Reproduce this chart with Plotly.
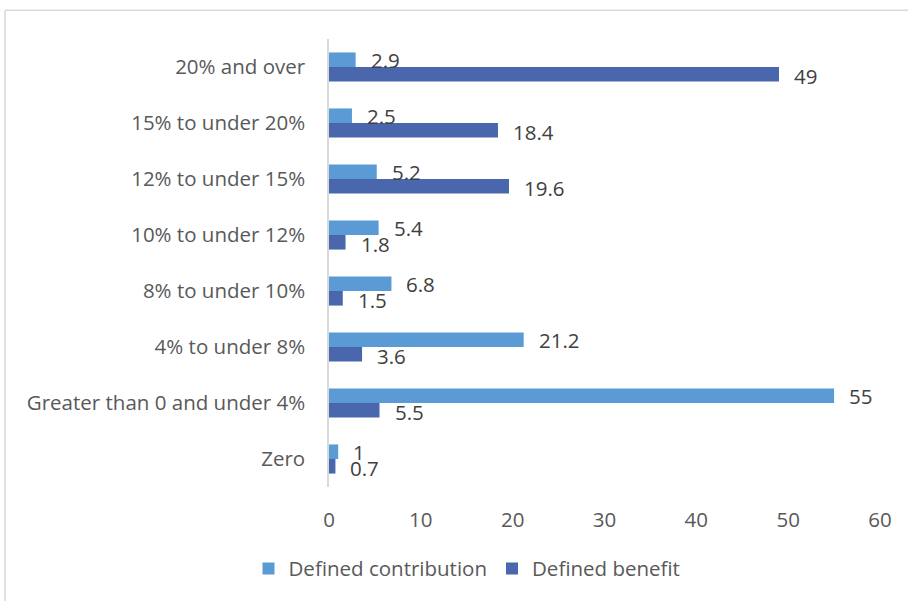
import plotly.graph_objects as go

categories = [
    "Zero",
    "Greater than 0 and under 4%",
    "4% to under 8%",
    "8% to under 10%",
    "10% to under 12%",
    "12% to under 15%",
    "15% to under 20%",
    "20% and over",
]
defined_contribution = [1, 55, 21.2, 6.8, 5.4, 5.2, 2.5, 2.9]
defined_benefit = [0.7, 5.5, 3.6, 1.5, 1.8, 19.6, 18.4, 49]
x_ticks = [0, 10, 20, 30, 40, 50, 60]

LIGHT = "#5B9BD5"
DARK = "#4A66AC"
FONT = "Open Sans"
FS = 20.5

fig = go.Figure()

# benefit first so it sits below contribution in each group
fig.add_trace(go.Bar(
    y=categories, x=defined_benefit, orientation="h",
    name="Defined benefit", marker=dict(color=DARK, line=dict(width=0)),
))
fig.add_trace(go.Bar(
    y=categories, x=defined_contribution, orientation="h",
    name="Defined contribution", marker=dict(color=LIGHT, line=dict(width=0)),
))

# data labels
for cat, v in zip(categories, defined_contribution):
    fig.add_annotation(x=v, y=cat, text=f"{v:g}", showarrow=False,
                       xanchor="left", xshift=13, yshift=7,
                       font=dict(family=FONT, size=FS, color="#404040"))
for cat, v in zip(categories, defined_benefit):
    fig.add_annotation(x=v, y=cat, text=f"{v:g}", showarrow=False,
                       xanchor="left", xshift=13, yshift=-9,
                       font=dict(family=FONT, size=FS, color="#404040"))

# outer chart border: only the left and top edges fall inside the frame
left_x = (5 - 329) / 551
top_y = (489 - 10) / 450
fig.add_shape(type="line", xref="paper", yref="paper",
              x0=left_x, x1=left_x, y0=-2, y1=top_y,
              line=dict(color="#D9D9D9", width=1.5), layer="below")
fig.add_shape(type="line", xref="paper", yref="paper",
              x0=left_x, x1=2, y0=top_y, y1=top_y,
              line=dict(color="#D9D9D9", width=1.5), layer="below")

fig.update_layout(
    width=908, height=601,
    margin=dict(l=329, r=28, t=39, b=112),
    paper_bgcolor="white", plot_bgcolor="white",
    barmode="group", bargap=0.48, bargroupgap=0,
    font=dict(family=FONT, size=FS, color="#595959"),
    showlegend=True,
    legend=dict(orientation="h", traceorder="reversed",
                x=(467 - 329) / 551, xanchor="center",
                y=(489 - 571) / 450, yanchor="middle",
                font=dict(family=FONT, size=FS, color="#595959"),
                itemwidth=30),
    xaxis=dict(range=[0, 60], tickvals=x_ticks, showgrid=False, zeroline=False,
               showline=False, ticks="", ticklabelstandoff=18),
    yaxis=dict(showgrid=False, zeroline=False, showline=True, linecolor="#D9D9D9",
               linewidth=1.5, ticks="", ticklabelstandoff=18),
)

fig.write_html("out.html", config={"displayModeBar": False},
               post_script="document.body.style.margin='0';")
